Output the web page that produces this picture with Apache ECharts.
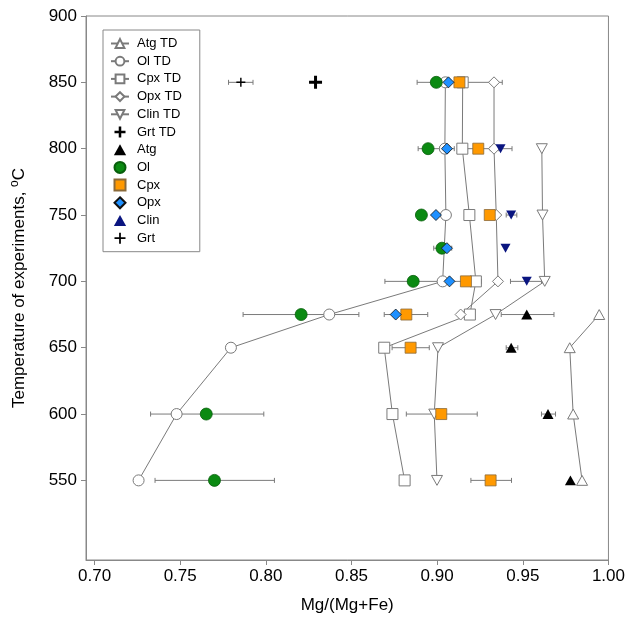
<!DOCTYPE html>
<html>
<head>
<meta charset="utf-8">
<script src="https://cdn.jsdelivr.net/npm/echarts@6/dist/echarts.min.js"></script>
<style>html,body{margin:0;padding:0;background:#fff}#c{width:628px;height:619px}</style>
</head>
<body>
<div id="c"></div>
<script>
// ---- data: [Mg/(Mg+Fe), T] ----
const atgTD  = [[0.9846,550],[0.9794,600],[0.9774,650],[0.9946,675]];
const olTD   = [[0.7257,550],[0.7479,600],[0.7796,650],[0.8370,675],[0.9032,700],[0.9051,750],[0.9045,800],[0.9048,850]];
const cpxTD  = [[0.8810,550],[0.8739,600],[0.8691,650],[0.9191,675],[0.9226,700],[0.9188,750],[0.9147,800],[0.9149,850]];
const opxTD  = [[0.9137,675],[0.9355,700],[0.9345,750],[0.9332,800],[0.9332,850]];
const clinTD = [[0.8999,550],[0.8983,600],[0.9005,650],[0.9341,675],[0.9628,700],[0.9615,750],[0.9611,800]];
const grtTD  = [[0.8290,850]];

const atg  = [[0.9778,550],[0.9647,600],[0.9432,650],[0.9523,675]];
const ol   = [[0.7700,550],[0.7652,600],[0.8206,675],[0.8860,700],[0.9028,725],[0.8908,750],[0.8947,800],[0.8995,850]];
const cpx  = [[0.9312,550],[0.9024,600],[0.8845,650],[0.8820,675],[0.9168,700],[0.9307,750],[0.9240,800],[0.9130,850]];
const opx  = [[0.8758,675],[0.9072,700],[0.9057,725],[0.8993,750],[0.9057,800],[0.9066,850]];
const clin = [[0.9523,700],[0.9399,725],[0.9432,750],[0.9370,800]];
const grt  = [[0.7854,850]];

// error bars: [low, high, T]
const errBars = [
  [0.9609,0.9691,600],[0.9403,0.9471,650],[0.9374,0.9682,675],
  [0.7353,0.8050,550],[0.7327,0.7988,600],[0.7867,0.8543,675],[0.8695,0.9030,700],[0.8889,0.9016,800],[0.8883,0.9110,850],
  [0.9197,0.9434,550],[0.8820,0.9234,600],[0.8737,0.8954,650],[0.8691,0.8945,675],[0.9080,0.9259,700],[0.9130,0.9360,800],[0.9020,0.9380,850],
  [0.8980,0.9085,725],[0.9020,0.9100,800],
  [0.9428,0.9609,700],[0.9403,0.9465,750],[0.9310,0.9437,800],
  [0.7782,0.7925,850]
];

const xTicks = [0.70,0.75,0.80,0.85,0.90,0.95,1.00];
const yTicks = [550,600,650,700,750,800,850,900];
const legendNames = ['Atg TD','Ol TD','Cpx TD','Opx TD','Clin TD','Grt TD','Atg','Ol','Cpx','Opx','Clin','Grt'];

const FONT = 'Liberation Sans, Arial, Helvetica, sans-serif';
const GRAY = '#7a7a7a';
const plusBold = 'path://M3.85,0H6.15V3.85H10V6.15H6.15V10H3.85V6.15H0V3.85H3.85Z';
const plusThin = 'path://M4.2,0H5.8V4.2H10V5.8H5.8V10H4.2V5.8H0V4.2H4.2Z';
const SQ = 'path://M0,0H10V10H0Z';
const DIA = 'path://M5,0L10,5L5,10L0,5Z';
const TRI = 'path://M5,0L10,9L0,9Z';

function tdLine(name, data, symbol, rotate) {
  return {
    name, type: 'line', data, symbol, symbolSize: 11, symbolRotate: rotate || 0,
    symbolKeepAspect: true,
    lineStyle: {color: GRAY, width: 1},
    itemStyle: {color: '#fff', borderColor: GRAY, borderWidth: 1},
    emphasis: {disabled: true}, z: 3, animation: false
  };
}
function pts(name, data, symbol, size, color, border, rotate) {
  return {
    name, type: 'scatter', data, symbol, symbolSize: size, symbolRotate: rotate || 0,
    symbolKeepAspect: true,
    itemStyle: {color, borderColor: border || color, borderWidth: border ? 0.8 : 0, opacity: 1},
    emphasis: {disabled: true}, z: 4, animation: false
  };
}

const chart = echarts.init(document.getElementById('c'), null, {renderer: 'canvas'});
chart.setOption({
  backgroundColor: '#fff',
  animation: false,
  textStyle: {fontFamily: FONT},
  grid: {left: 86, right: 16, top: 16, bottom: 53, show: true, borderColor: '#888', borderWidth: 1},
  legend: {
    orient: 'vertical', left: 103, top: 30,
    data: legendNames,
    borderColor: '#888', borderWidth: 1, padding: [7, 18, 7, 7],
    itemWidth: 18, itemHeight: 11, itemGap: 4.7, symbolKeepAspect: true,
    textStyle: {fontSize: 13, color: '#000', fontFamily: FONT, lineHeight: 11, padding: [0,0,0,3]},
    selectedMode: false
  },
  xAxis: {
    type: 'value', min: 0.695, max: 1.0,
    name: 'Mg/(Mg+Fe)', nameLocation: 'middle', nameGap: 37,
    nameTextStyle: {fontSize: 17, color: '#000', fontFamily: FONT},
    axisLine: {show: true, lineStyle: {color: '#888'}},
    axisTick: {show: true, customValues: xTicks, length: 5, lineStyle: {color: '#888'}},
    axisLabel: {customValues: xTicks, formatter: v => v.toFixed(2), fontSize: 17, color: '#000', margin: 8, fontFamily: FONT},
    splitLine: {show: false}
  },
  yAxis: {
    type: 'value', min: 490, max: 900,
    name: '{a|Temperature of experiments, }{s|o}{a|C}', nameLocation: 'middle', nameGap: 57,
    nameTextStyle: {
      color: '#000', fontFamily: FONT,
      rich: {
        a: {fontSize: 17, lineHeight: 20, fontFamily: FONT, color: '#000'},
        s: {fontSize: 12, lineHeight: 12, verticalAlign: 'top', fontFamily: FONT, color: '#000'}
      }
    },
    axisLine: {show: true, lineStyle: {color: '#888'}},
    axisTick: {show: true, customValues: yTicks, length: 5, lineStyle: {color: '#888'}},
    axisLabel: {customValues: yTicks, fontSize: 17, color: '#000', margin: 9, fontFamily: FONT},
    splitLine: {show: false}
  },
  series: [
    {
      type: 'custom', name: 'err', data: errBars, encode: {x: [0, 1], y: 2}, z: 2, silent: true,
      renderItem: (params, api) => {
        const lo = api.value(0), hi = api.value(1), t = api.value(2);
        const a = api.coord([lo, t]), b = api.coord([hi, t]);
        const st = {stroke: GRAY, lineWidth: 1};
        return {type: 'group', children: [
          {type: 'line', shape: {x1: a[0], y1: a[1], x2: b[0], y2: b[1]}, style: st},
          {type: 'line', shape: {x1: a[0], y1: a[1]-2.5, x2: a[0], y2: a[1]+2.5}, style: st},
          {type: 'line', shape: {x1: b[0], y1: b[1]-2.5, x2: b[0], y2: b[1]+2.5}, style: st}
        ]};
      }
    },
    tdLine('Atg TD', atgTD, TRI),
    tdLine('Ol TD', olTD, 'circle'),
    tdLine('Cpx TD', cpxTD, SQ),
    tdLine('Opx TD', opxTD, DIA),
    tdLine('Clin TD', clinTD, TRI, 180),
    pts('Grt TD', grtTD, plusBold, 13, '#000', null),
    pts('Atg', atg, TRI, 11, '#000', null),
    pts('Ol', ol, 'circle', 12, '#0b8a12', '#075e0b'),
    pts('Cpx', cpx, SQ, 11, '#ff9900', '#8a6a3a'),
    pts('Opx', opx, DIA, 11, '#1e90ff', '#111'),
    pts('Clin', clin, TRI, 10, '#0a1580', null, 180),
    pts('Grt', grt, plusThin, 9, '#000', null)
  ]
});
</script>
</body>
</html>
